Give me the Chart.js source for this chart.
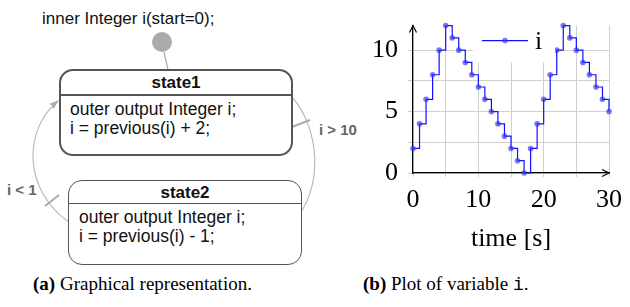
<!DOCTYPE html>
<html>
<head>
<meta charset="utf-8">
<script src="https://cdn.jsdelivr.net/npm/chart.js@4.4.1/dist/chart.umd.min.js"></script>
<style>
  body { margin: 0; background: #fff; }
  #page { position: relative; width: 630px; height: 307px; overflow: hidden; font-family: "Liberation Sans", Arial, sans-serif; }
  .state { position: absolute; box-sizing: border-box; border: 2px solid #555; border-radius: 14px; background: #fff; }
  .state .head { height: 23px; border-bottom: 2px solid #555; text-align: center; font-weight: bold; font-size: 17px; line-height: 24px; color: #111; }
  .state .body { padding: 4px 0 0 9px; font-size: 17.5px; line-height: 19px; color: #111; }
  .lbl { position: absolute; font-size: 15px; font-weight: bold; color: #666; white-space: nowrap; }
  .cap { position: absolute; top: 273px; font-family: "Liberation Serif", "Times New Roman", serif; font-size: 19px; color: #000; white-space: nowrap; }
  .cap tt { font-family: "Liberation Mono", "DejaVu Sans Mono", monospace; font-size: 18px; }
  #plot { position: absolute; left: 340px; top: 0; }
</style>
</head>
<body>
<div id="page">
  <!-- left: state machine sketch -->
  <div style="position:absolute;left:42px;top:9px;font-size:17px;color:#111;white-space:nowrap;">inner Integer i(start=0);</div>
  <svg width="340" height="270" style="position:absolute;left:0;top:0;">
    <defs>
      <marker id="arr" markerWidth="10" markerHeight="8" refX="9" refY="4" orient="auto" markerUnits="userSpaceOnUse">
        <path d="M0,0.5 L10,4 L0,7.5 L2,4 Z" fill="#aaa"/>
      </marker>
    </defs>
    <circle cx="162" cy="42" r="10" fill="#aaa"/>
    <line x1="164" y1="52" x2="168" y2="70" stroke="#aaa" stroke-width="1.2"/>
    <path d="M292,97 C321,130 323,190 294,221" fill="none" stroke="#bbb" stroke-width="1.2" marker-end="url(#arr)"/>
    <line x1="292" y1="127" x2="310" y2="120" stroke="#aaa" stroke-width="2"/>
    <path d="M69,222 C23,190 23,130 58,101" fill="none" stroke="#bbb" stroke-width="1.2" marker-end="url(#arr)"/>
    <line x1="45" y1="206" x2="59" y2="195" stroke="#aaa" stroke-width="2"/>
  </svg>
  <div class="state" style="left:59px;top:69px;width:234px;height:87px;">
    <div class="head">state1</div>
    <div class="body">outer output Integer i;<br>i = previous(i) + 2;</div>
  </div>
  <div class="state" style="left:68px;top:180px;width:234px;height:85px;border-width:1px;">
    <div class="head" style="border-bottom-width:1px;height:22px;">state2</div>
    <div class="body" style="padding-left:10px;">outer output Integer i;<br>i = previous(i) - 1;</div>
  </div>
  <div class="lbl" style="left:319px;top:121px;">i &gt; 10</div>
  <div class="lbl" style="left:7px;top:181px;">i &lt; 1</div>

  <!-- right: plot -->
  <canvas id="plot" width="290" height="260"></canvas>

  <div class="cap" style="left:33px;"><b>(a)</b> Graphical representation.</div>
  <div class="cap" style="left:363px;"><b>(b)</b> Plot of variable <tt>i</tt>.</div>
</div>
<script>
const times = [0, 1, 2, 3, 4, 5, 6, 7, 8, 9, 10, 11, 12, 13, 14, 15, 16, 17, 18, 19, 20, 21, 22, 23, 24, 25, 26, 27, 28, 29, 30];
const iValues = [2, 4, 6, 8, 10, 12, 11, 10, 9, 8, 7, 6, 5, 4, 3, 2, 1, 0, 2, 4, 6, 8, 10, 12, 11, 10, 9, 8, 7, 6, 5];
const xGridTicks = [0, 5, 10, 15, 20, 25, 30];
const xLabelTicks = [0, 10, 20, 30];
const yGridTicks = [0, 2.5, 5, 7.5, 10];
const yLabelTicks = [0, 5, 10];

const serif = { family: 'Liberation Serif', size: 26 };
const blue = '#1010ff';
const dotBlue = 'rgba(50, 50, 240, 0.65)';

// axis arrows + in-plot legend
const decorations = {
  id: 'decorations',
  afterDatasetsDraw(chart) {
    const ctx = chart.ctx;
    const a = chart.chartArea;
    ctx.save();
    ctx.strokeStyle = '#000';
    ctx.lineWidth = 1.2;
    ctx.beginPath();
    ctx.moveTo(a.right - 7, a.bottom - 3.5);
    ctx.lineTo(a.right, a.bottom);
    ctx.lineTo(a.right - 7, a.bottom + 3.5);
    ctx.moveTo(a.left - 3.5, a.top + 7);
    ctx.lineTo(a.left, a.top);
    ctx.lineTo(a.left + 3.5, a.top + 7);
    ctx.stroke();

    // legend box
    const lx = a.left + 60, ly = a.top - 5;
    ctx.fillStyle = '#fff';
    ctx.fillRect(lx, ly, 82, 42);
    ctx.strokeStyle = blue;
    ctx.lineWidth = 1.2;
    ctx.beginPath();
    ctx.moveTo(lx + 9, ly + 20);
    ctx.lineTo(lx + 55, ly + 20);
    ctx.stroke();
    ctx.fillStyle = dotBlue;
    ctx.beginPath();
    ctx.arc(lx + 32, ly + 20, 2.8, 0, Math.PI * 2);
    ctx.fill();
    ctx.fillStyle = '#000';
    ctx.font = '26px "Liberation Serif"';
    ctx.textBaseline = 'alphabetic';
    ctx.fillText(chart.data.datasets[0].label, lx + 62, ly + 28);
    ctx.restore();
  }
};

new Chart(document.getElementById('plot').getContext('2d'), {
  type: 'line',
  data: {
    datasets: [{
      label: 'i',
      data: times.map((t, k) => ({ x: t, y: iValues[k] })),
      stepped: 'before',
      borderColor: blue,
      borderWidth: 1.2,
      pointRadius: 2.8,
      pointBorderWidth: 0,
      pointBackgroundColor: dotBlue,
      clip: false
    }]
  },
  options: {
    responsive: false,
    animation: false,
    events: [],
    layout: { padding: { top: 15, right: 15, left: 0, bottom: 0 } },
    plugins: {
      legend: { display: false },
      tooltip: { enabled: false }
    },
    scales: {
      x: {
        type: 'linear',
        min: 0,
        max: 30,
        afterBuildTicks: s => { s.ticks = xGridTicks.map(v => ({ value: v })); },
        afterFit: s => { s.height = 87; },
        ticks: {
          font: serif,
          color: '#000',
          padding: 8,
          maxRotation: 0,
          autoSkip: false,
          callback: v => xLabelTicks.includes(v) ? String(v) : ''
        },
        grid: { color: '#cfcfcf', lineWidth: 1, tickLength: 4 },
        border: { color: '#000', width: 1.2 },
        title: { display: true, text: 'time [s]', font: serif, color: '#000', padding: { top: 0, bottom: 5 } }
      },
      y: {
        min: 0,
        max: 12,
        afterBuildTicks: s => { s.ticks = yGridTicks.map(v => ({ value: v })); },
        afterFit: s => { s.width = 73; },
        ticks: {
          font: serif,
          color: '#000',
          padding: 10,
          autoSkip: false,
          callback: v => yLabelTicks.includes(v) ? String(v) : ''
        },
        grid: { color: '#cfcfcf', lineWidth: 1, tickLength: 5 },
        border: { color: '#000', width: 1.2 }
      }
    }
  },
  plugins: [decorations]
});
</script>
</body>
</html>
